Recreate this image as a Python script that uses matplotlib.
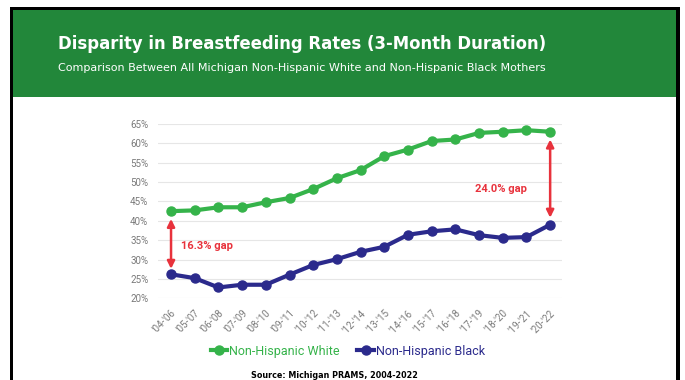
import matplotlib
matplotlib.use("Agg")
import matplotlib.pyplot as plt
from matplotlib.patches import Rectangle

# --- data -------------------------------------------------------------------
periods = ["'04-'06", "'05-'07", "'06-'08", "'07-'09", "'08-'10", "'09-'11",
           "'10-'12", "'11-'13", "'12-'14", "'13-'15", "'14-'16", "'15-'17",
           "'16-'18", "'17-'19", "'18-'20", "'19-'21", "'20-'22"]
white = [42.5, 42.7, 43.5, 43.5, 44.8, 45.9, 48.2, 51.0, 53.1, 56.7, 58.4,
         60.6, 61.0, 62.7, 63.0, 63.4, 63.0]
black = [26.2, 25.2, 22.8, 23.5, 23.5, 26.1, 28.6, 30.1, 32.0, 33.3, 36.4,
         37.3, 37.8, 36.3, 35.6, 35.8, 39.0]
yticks = [20, 25, 30, 35, 40, 45, 50, 55, 60, 65]

GREEN_HDR = "#22873a"
C_WHITE = "#35b34a"
C_BLACK = "#2b2a8c"
RED = "#e8323c"
GRAY = "#7a7a7a"

fig = plt.figure(figsize=(6.85, 3.8), dpi=100)
W, H = 685, 380

def px(x0, y0, x1, y1):
    # rectangle in pixel coords (top-left origin) -> figure fraction
    return (x0 / W, 1 - y1 / H), (x1 - x0) / W, (y1 - y0) / H

# frame + header
for (x0, y0, x1, y1, fc) in [(10, 7, 680, 380, "black"),
                             (13, 10, 676, 380, "white"),
                             (13, 10, 676, 97, GREEN_HDR)]:
    xy, w, h = px(x0, y0, x1, y1)
    fig.patches.append(Rectangle(xy, w, h, transform=fig.transFigure,
                                 facecolor=fc, edgecolor="none", zorder=-5))

fig.text(58 / W, 1 - 44 / H, "Disparity in Breastfeeding Rates (3-Month Duration)",
         color="white", fontsize=11.9, fontweight="bold", va="center", ha="left",
         family="DejaVu Sans")
fig.text(58 / W, 1 - 68 / H,
         "Comparison Between All Michigan Non-Hispanic White and Non-Hispanic Black Mothers",
         color="white", fontsize=8.0, va="center", ha="left", family="DejaVu Sans")

# --- chart --------------------------------------------------------------------
ax = fig.add_axes([158 / W, 1 - 298.3 / H, (562 - 158) / W, (298.3 - 124) / H])
ax.set_facecolor("none")
x = list(range(len(periods)))
ax.plot(x, white, color=C_WHITE, lw=3, marker="o", ms=6.5, label="Non-Hispanic White",
        zorder=3)
ax.plot(x, black, color=C_BLACK, lw=3, marker="o", ms=6.5, label="Non-Hispanic Black",
        zorder=3)

ax.set_xlim(-0.55, 16.5)
ax.set_ylim(20, 65)
ax.set_yticks(yticks)
ax.set_yticklabels([f"{v}%" for v in yticks], fontsize=7, color=GRAY, family="Roboto")
ax.set_xticks(x)
ax.set_xticklabels(periods, rotation=45, ha="right", rotation_mode="anchor",
                   fontsize=7, color=GRAY, family="Roboto")
ax.tick_params(length=0, pad=7)
ax.grid(axis="y", color="#e6e6e6", lw=0.8)
for s in ax.spines.values():
    s.set_visible(False)

# gap arrows
arrow = dict(arrowstyle="<|-|>", color=RED, lw=1.8, mutation_scale=11,
             shrinkA=0, shrinkB=0)
ax.annotate("", xy=(0, 40.5), xytext=(0, 27.6), arrowprops=arrow)
ax.annotate("", xy=(16, 61.0), xytext=(16, 40.8), arrowprops=arrow)
ax.text(0.42, 33.6, "16.3% gap", color=RED, fontsize=8, fontweight="bold",
        va="center", ha="left", family="Roboto")
ax.text(13.93, 48.1, "24.0% gap", color=RED, fontsize=8, fontweight="bold",
        va="center", ha="center", family="Roboto")

leg = fig.legend(loc="center", bbox_to_anchor=(348 / W, 1 - 351 / H), ncol=2,
                 frameon=False, labelcolor="linecolor",
                 handlelength=1.3, handletextpad=0.2, columnspacing=1.4,
                 prop={"family": "Roboto", "size": 9})

fig.text(334 / W, 1 - 375 / H, "Source: Michigan PRAMS, 2004-2022",
         fontsize=5.8, fontweight="bold", ha="center", va="center",
         family="DejaVu Sans")

fig.savefig("out.png", dpi=100)
